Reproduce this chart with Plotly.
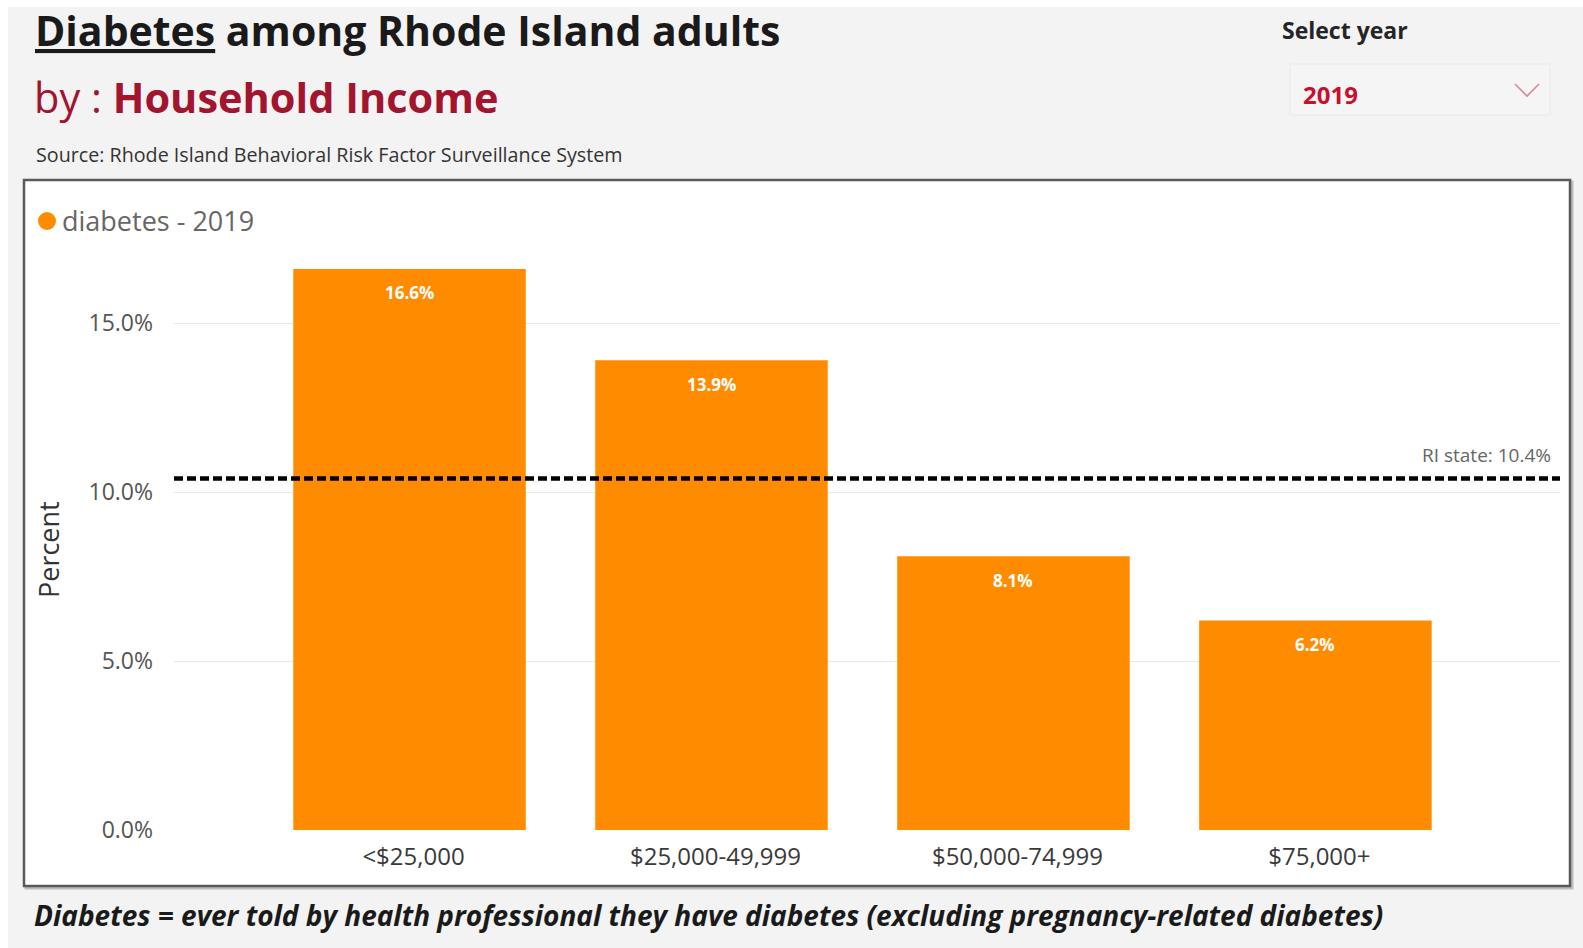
import plotly.graph_objects as go

# Diabetes prevalence among Rhode Island adults by household income, 2019
categories = ["<$25,000", "$25,000-49,999", "$50,000-74,999", "$75,000+"]
diabetes_pct = [16.6, 13.9, 8.1, 6.2]
state_pct = 10.4
y_tick_vals = [0, 5, 10, 15]
y_tick_text = ["0.0%", "5.0%", "10.0%", "15.0%"]
year = "2019"

W, H = 1583, 948
ORANGE = "#FF8C00"
CRIMSON = "#A3142E"
FONT = "Open Sans"


def px(x):
    return x / W


def py(y):
    return 1 - y / H


# plot-area placement in page pixels
X_LEFT, X_RIGHT = 174, 1560
Y_ZERO, Y_TOP = 830, 238.5
Y_MAX = 17.5

fig = go.Figure()

fig.add_trace(go.Bar(
    x=categories,
    y=diabetes_pct,
    marker=dict(color=ORANGE, line=dict(width=0)),
    width=0.77,
    hoverinfo="x+y",
    showlegend=False,
))

# value labels inside the top of each bar
for c, v in zip(categories, diabetes_pct):
    fig.add_annotation(
        x=c, y=v, xref="x", yref="y",
        text=f"<b>{v:.1f}%</b>", showarrow=False,
        yanchor="middle", yshift=-24,
        font=dict(family=FONT, size=17, color="white"),
    )

shapes = []
# page background panel
shapes.append(dict(type="rect", xref="paper", yref="paper",
                   x0=px(8), x1=1, y0=0, y1=py(7),
                   fillcolor="#f3f3f3", line=dict(width=0), layer="below"))
# chart frame with soft shadow
shapes.append(dict(type="rect", xref="paper", yref="paper",
                   x0=px(26), x1=px(1572), y0=py(888), y1=py(182),
                   fillcolor="rgba(0,0,0,0)", line=dict(color="#bdbdbd", width=3), layer="below"))
shapes.append(dict(type="rect", xref="paper", yref="paper",
                   x0=px(24), x1=px(1570), y0=py(886), y1=py(180),
                   fillcolor="white", line=dict(color="#5a5a5a", width=2.5), layer="below"))
# year selector box
shapes.append(dict(type="rect", xref="paper", yref="paper",
                   x0=px(1290), x1=px(1550), y0=py(115), y1=py(64),
                   fillcolor="#f5f5f5", line=dict(color="#e8e8e8", width=1), layer="below"))
# dropdown chevron
shapes.append(dict(type="path", xref="paper", yref="paper",
                   path=f"M {px(1515)},{py(84)} L {px(1527)},{py(96)} L {px(1539)},{py(84)}",
                   line=dict(color="#d98a9c", width=1.6)))
# legend marker
shapes.append(dict(type="circle", xref="paper", yref="paper",
                   x0=px(38), x1=px(56), y0=py(230), y1=py(212),
                   fillcolor=ORANGE, line=dict(width=0)))
# state reference line
shapes.append(dict(type="line", xref="paper", yref="y",
                   x0=px(X_LEFT), x1=px(X_RIGHT), y0=state_pct, y1=state_pct,
                   line=dict(color="black", width=4.5, dash="9px,4px"), layer="above"))
fig.update_layout(shapes=shapes)

ann = [
    dict(x=px(33), y=py(30), text="<u>Diabetes</u> among Rhode Island adults",
         font=dict(family=FONT, size=41, color="#1a1a1a", weight="bold")),
    dict(x=px(32), y=py(97),
         text=f"<span style='font-weight:400'>by : </span><b>Household Income</b>",
         font=dict(family=FONT, size=41.5, color=CRIMSON)),
    dict(x=px(34), y=py(154), text="Source: Rhode Island Behavioral Risk Factor Surveillance System",
         font=dict(family=FONT, size=19.7, color="#333333")),
    dict(x=px(1280), y=py(30), text="<b>Select year</b>",
         font=dict(family=FONT, size=23, color="#252525")),
    dict(x=px(1301), y=py(94), text=f"<b>{year}</b>",
         font=dict(family=FONT, size=24, color="#C8102E")),
    dict(x=px(60), y=py(221), text=f"diabetes - {year}",
         font=dict(family=FONT, size=27, color="#666666")),
    dict(x=px(32), y=py(915),
         text="<b><i>Diabetes = ever told by health professional they have diabetes (excluding pregnancy-related diabetes)</i></b>",
         font=dict(family=FONT, size=28, color="#1a1a1a")),
]
for a in ann:
    fig.add_annotation(xref="paper", yref="paper", xanchor="left", yanchor="middle",
                       showarrow=False, **a)

# y-axis title
fig.add_annotation(xref="paper", yref="paper", x=px(48), y=py(550),
                   text="Percent", textangle=-90, showarrow=False,
                   xanchor="center", yanchor="middle",
                   font=dict(family=FONT, size=27, color="#333333"))

# state reference label
fig.add_annotation(xref="paper", yref="y", x=px(1553), y=state_pct,
                   text=f"RI state: {state_pct}%", showarrow=False,
                   xanchor="right", yanchor="bottom", yshift=8,
                   font=dict(family=FONT, size=19, color="#666666"))

fig.update_layout(
    width=W, height=H,
    autosize=False,
    margin=dict(l=0, r=0, t=0, b=0, autoexpand=False),
    paper_bgcolor="white",
    plot_bgcolor="rgba(0,0,0,0)",
    xaxis=dict(
        domain=[px(X_LEFT), px(X_RIGHT)],
        range=[-0.78, 3.81],
        showgrid=False, zeroline=False, showline=False,
        ticks="", ticklabelstandoff=10, ticklabelshift=4,
        tickfont=dict(family=FONT, size=24, color="#3a3a3a"),
        fixedrange=True,
    ),
    yaxis=dict(
        domain=[py(Y_ZERO), py(Y_TOP)],
        range=[0, Y_MAX],
        tickvals=y_tick_vals, ticktext=y_tick_text,
        showgrid=True, gridcolor="#e9e9e9", gridwidth=1,
        zeroline=False, showline=False,
        ticks="", ticklabelstandoff=20,
        tickfont=dict(family=FONT, size=23, color="#555555"),
        fixedrange=True,
    ),
    font=dict(family=FONT),
)

fig.write_html("out.html", config={"responsive": False},
               default_width=f"{W}px", default_height=f"{H}px")
